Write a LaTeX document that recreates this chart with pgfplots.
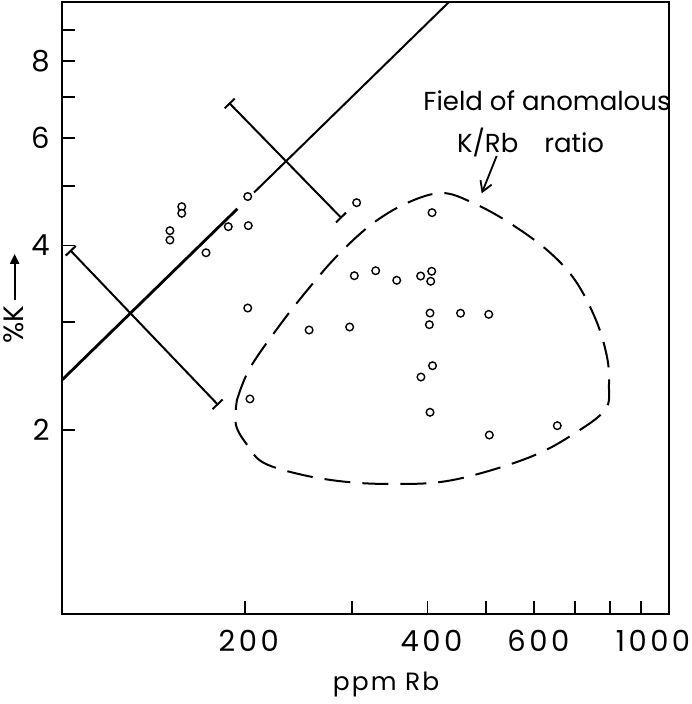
\documentclass[border=0pt]{standalone}
\usepackage{pgfplots}
\pgfplotsset{compat=1.18}
\usetikzlibrary{arrows.meta}
\usepackage{fontspec}
\setmainfont{Poppins}

\begin{document}
\begin{tikzpicture}
\begin{axis}[
    xmode=log, ymode=log,
    xmin=100, xmax=1000, ymin=1, ymax=10,
    width=303.5pt, height=306pt, scale only axis,
    axis line style={line width=1pt},
    xtick={200,300,400,500,600,700,800,900,1000},
    xticklabels={200,,400,,600,,,,\makebox[0pt]{1000\hspace{20pt}}},
    ytick={2,3,4,5,6,7,8,9},
    yticklabels={2,,4,,6,,8,},
    xtick pos=bottom, ytick pos=left,
    tick align=inside,
    major tick length=6.5pt,
    tick style={line width=0.9pt, black},
    /pgf/number format/assume math mode=true,
    xticklabel style={anchor=center, yshift=-13.5pt, xshift=2pt,
        font=\addfontfeatures{LetterSpace=12}\fontsize{14.5}{14.5}\selectfont},
    yticklabel style={anchor=east, inner sep=0pt, xshift=-6pt,
        font=\fontsize{14.5}{14.5}\selectfont},
    xlabel={ppm Rb},
    xlabel style={at={(axis description cs:0.534,0)}, anchor=center,
        yshift=-35pt, font=\addfontfeatures{LetterSpace=8}\fontsize{12.5}{12.5}\selectfont},
    ylabel={\%K\,\tikz[baseline=-0.6ex]\draw[line width=1pt,-{Triangle[length=5pt,width=4.5pt]}] (0,0)--(23pt,0);},
    ylabel style={at={(axis description cs:-0.079,0.516)}, anchor=center,
        font=\fontsize{14}{14}\selectfont},
]
% field of anomalous K/Rb ratio
\addplot[smooth, tension=0.6, line width=1pt, dash pattern=on 13pt off 6pt] coordinates {
    (194.2,2.237) (204.0,2.523) (228.6,2.967) (255.3,3.410) (284.9,3.861)
    (324.1,4.338) (370.2,4.695) (422.7,4.874) (475.5,4.695) (543.0,4.371)
    (629.6,3.934) (700.0,3.513) (758.1,3.023) (790.5,2.630) (796.5,2.367)
    (784.5,2.154) (692.0,1.961) (601.6,1.819) (497.6,1.706) (419.6,1.643)
    (351.0,1.631) (295.9,1.643) (249.5,1.687) (215.2,1.765) (202.5,1.882)
    (193.5,2.036) (194.2,2.237)
};
% main K/Rb line
\addplot[line width=1.4pt] coordinates {(100,2.412) (194.5,4.593)};
\addplot[line width=1pt] coordinates {(207.2,4.884) (434.1,10)};
% T-ended lines
\addplot[line width=1pt, {Bar[width=7pt]}-{Bar[width=7pt]}] coordinates {(188.4,6.846) (288.9,4.432)};
\addplot[line width=1pt, {Bar[width=7pt]}-{Bar[width=7pt]}] coordinates {(103.1,3.933) (180.9,2.195)};
% arrow to field
\addplot[line width=0.9pt, -{Straight Barb[length=5pt,width=6pt]}] coordinates {(520.1,5.603) (491.4,4.868)};
% samples
\addplot[only marks, mark=*, mark size=1.9pt, mark options={fill=white, draw=black, line width=0.7pt}] coordinates {
    (202.3,4.81) (305.8,4.70) (407,4.527) (187.9,4.294) (202.7,4.311)
    (172.7,3.893) (157.5,4.630) (157.5,4.516) (150.6,4.230) (150.6,4.084)
    (303.1,3.571) (328.7,3.639) (356.0,3.510) (389.8,3.567) (406.5,3.631)
    (405.0,3.497) (202.3,3.162) (255.3,2.911) (297.8,2.944) (403.9,3.103)
    (453.5,3.101) (504.7,3.088) (402.9,2.970) (407.8,2.545) (390.3,2.439)
    (204.0,2.246) (403.9,2.136) (505.8,1.961) (654.6,2.031)
};
\node[font=\fontsize{13}{13}\selectfont] at (axis cs:629.6,6.89) {Field of anomalous};
\node[font=\fontsize{13}{13}\selectfont] at (axis cs:591.5,5.885) {K/Rb\quad ratio};
\coordinate (sw) at (rel axis cs:0,0);
\coordinate (ne) at (rel axis cs:1,1);
\end{axis}
\pgfresetboundingbox
\path ([xshift=-31pt,yshift=-45pt]sw) rectangle ([xshift=11.5pt,yshift=1pt]ne);
\end{tikzpicture}
\end{document}
